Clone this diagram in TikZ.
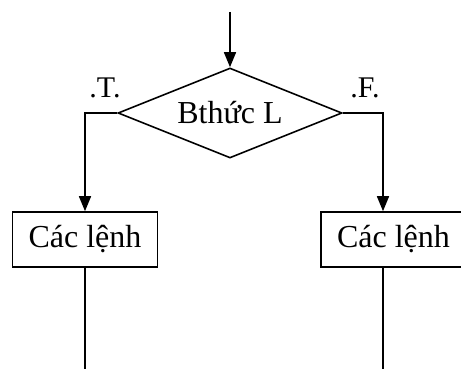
\documentclass[tikz,border=0pt]{standalone}
\usepackage{fontspec}
\setmainfont{Liberation Serif}
\usetikzlibrary{shapes.geometric, arrows.meta}
\begin{document}
\begin{tikzpicture}[x=1pt, y=1pt, >={Triangle[length=15pt, width=12pt]}, line width=1.6pt,
  decision/.style={draw, diamond, aspect=2.5, minimum width=224pt, minimum height=90pt, inner sep=0pt, font=\fontsize{32}{38}\selectfont},
  stmt/.style={draw, rectangle, minimum width=145pt, minimum height=55pt, inner sep=0pt, font=\fontsize{32}{38}\selectfont},
  lbl/.style={anchor=base, inner sep=0pt, font=\fontsize{30}{36}\selectfont}]
\useasboundingbox (0,0) rectangle (461,369);
\clip (0,0) rectangle (461,369);
% Dieu kien
\coordinate (start) at (230,357);
\node[decision] (cond) at (230,256) {Bthức L};
\draw[->] (start) -- (cond.north);
\node[lbl] (tlab) at (105,271) {.T.};
\node[lbl] (flab) at (365,271) {.F.};
% Hai nhanh
\node[stmt] (thenbox) at (85,129.5) {Các lệnh};
\node[stmt] (elsebox) at (393.5,129.5) {Các lệnh};
\draw[->] (cond.west) -| (thenbox.north);
\draw[->] (cond.east) -| ([xshift=-10.5pt]elsebox.north);
\coordinate (thenend) at (85,0);
\coordinate (elseend) at (383,0);
\draw (thenbox.south) -- (thenend);
\draw ([xshift=-10.5pt]elsebox.south) -- (elseend);
\end{tikzpicture}
\end{document}
